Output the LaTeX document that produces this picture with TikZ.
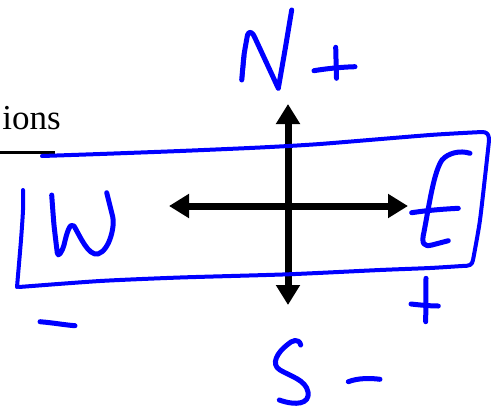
\documentclass[tikz,border=0pt]{standalone}
\usepackage{fontspec}
\setmainfont{Liberation Serif}
\usetikzlibrary{arrows.meta}
\definecolor{pen}{RGB}{0,0,255}
\tikzset{
  ink/.style={draw=pen, line width=5pt, line cap=round, line join=round},
  boxink/.style={draw=pen, line width=4pt, line cap=round, line join=round},
  compass/.style={draw=black, line width=7pt,
    {Triangle[length=20pt,width=23pt]}-{Triangle[length=20pt,width=23pt]}},
}
\begin{document}
\begin{tikzpicture}[x=1pt,y=-1pt]
\useasboundingbox (0,0) rectangle (493,405);
% heading fragment
\node[anchor=base east, inner sep=0pt, font=\fontsize{35}{42}\selectfont] (title) at (61,129) {ions};
\coordinate (ul0) at (0,152.3);
\coordinate (ul1) at (55,152.3);
\draw[line width=3.5pt] (ul0) -- (ul1);
% compass cross
\coordinate (top) at (288,104);
\coordinate (bot) at (288,305);
\coordinate (lft) at (169,206);
\coordinate (rgt) at (408,206);
\draw[compass] (lft) -- (rgt);
\draw[compass] (top) -- (bot);
% hand-drawn box
\draw[boxink] plot[smooth, tension=0.4] coordinates {
  (42,156) (100,154) (180,151) (260,147.5) (320,144) (430,135) (482,132)}
  .. controls (491,132) and (489,140) .. (488,150)
  plot[smooth, tension=0.4] coordinates {(488,150) (480,220) (473,260)}
  .. controls (472,265) and (470,266) .. (462,266)
  plot[smooth, tension=0.4] coordinates {(462,266) (430,268) (380,270) (288,274.3) (180,277.5) (100,281) (19,287)}
  plot[smooth, tension=0.4] coordinates {(17,287) (21,240) (23,210) (23,190)};
% N +
\draw[ink] plot[smooth, tension=0.3] coordinates {(241.7,80) (244,55) (247.5,35)}
  .. controls (249,31) and (252,31) .. (255,38)
  -- (278.3,88.3)
  plot[smooth, tension=0.3] coordinates {(278.3,88.3) (285,50) (291.7,10)};
\draw[line width=3pt, draw=pen, line cap=round] (242.5,80) -- (245,55);
\draw[ink] (314,70.7) .. controls (330,68) and (345,67) .. (355,66.7);
\draw[ink] (335.7,47.3) -- (336.5,78.3);
% W
\draw[ink] plot[smooth, tension=0.4] coordinates {(51.7,195) (54,225) (57.3,253)}
  .. controls (58,258) and (62,252) .. (64,245)
  .. controls (67,232) and (70,222) .. (74,226)
  .. controls (80,236) and (88,256) .. (98,254)
  .. controls (110,250) and (115,225) .. (112.7,216.7)
  -- (106.7,192.7);
% minus under W
\draw[ink] (40,321.7) .. controls (55,323) and (65,325) .. (75,325.7);
% E
\draw[ink] (470,153.3) .. controls (460,150) and (448,153) .. (442,160)
  .. controls (434,172) and (430,200) .. (424,232)
  .. controls (421,244) and (424,247) .. (432,245)
  -- (448.3,240.7);
\draw[ink] (411.7,212.7) .. controls (430,210) and (445,209) .. (458.3,208.3);
% plus under E
\draw[ink] (426,278.3) -- (425.7,321.7);
\draw[ink] (411,304) .. controls (420,305) and (430,306) .. (438.3,306);
% S -
\draw[ink] (300.7,345) .. controls (299,338) and (292,340) .. (287,345)
  .. controls (278,352) and (270,364) .. (280,370)
  .. controls (290,376) and (306,380) .. (308,392)
  .. controls (310,404) and (296,406) .. (279.3,400);
\draw[ink] (348.3,381.7) .. controls (358,378) and (370,378) .. (380,379.3);
\end{tikzpicture}
\end{document}
